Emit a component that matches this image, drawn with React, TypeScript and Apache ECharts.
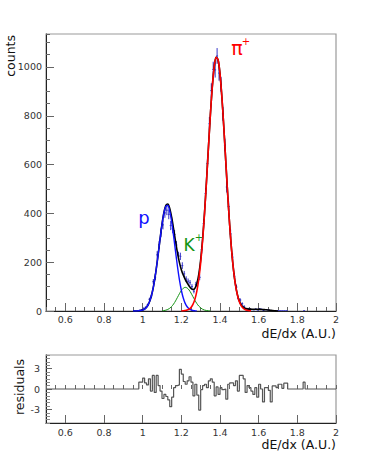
import React, { useEffect, useRef } from 'react';
import * as echarts from 'echarts';

// ---- data ----
const BIN_WIDTH = 0.01;
const dataStart = 0.98; // lower edge of first filled bin
const dataCounts = [
  3, 5, 11, 15, 25, 48, 61, 120, 139, 230,
  271, 320, 353, 402, 413, 396, 350, 337, 314, 270,
  228, 224, 186, 152, 131, 122, 116, 100, 81, 109,
  120, 138, 251, 358, 482, 604, 767, 903, 990, 988,
  1045, 975, 929, 808, 680, 508, 428, 316, 221, 143,
  98, 51, 45, 30, 19, 8, 10, 8, 6, 5,
  8, 4, 9, 7, 2, 6, 5, 3, 1, 2,
  1, 1, 1, 1, 1, 1, 1, 0, 0, 0,
  0, 0, 0, 0, 0, 1,
];

const residStart = 0.98;
const residuals = [
  1.0, 1.0, 1.6, 0.9, 0.6, 1.5, -0.3, 2.0, -0.5, 2.0,
  0.5, -0.3, -1.4, -0.8, -1.1, -1.6, -2.6, -1.2, 0.2, 0.5,
  0.6, 2.9, 2.2, 1.1, 0.7, 1.2, 1.8, 1.0, -1.0, 0.7,
  -0.9, -3.1, -0.1, 0.5, 0.7, 0.2, 1.2, 1.5, 1.0, -1.0,
  0.3, -0.8, 0.2, -0.1, 0.0, -1.5, 0.7, 0.9, 0.9, 0.5,
  1.2, -0.3, 2.0, 2.0, 1.5, -0.5, 0.5, 0.2, -0.3, -0.8,
  0.2, -1.2, 0.7, 0.0, -1.9, 0.2, 0.2, -0.2, -1.9, 0.45,
  0.45, 0.2, 0.7, 0.7, 0.1, 0.85, 0.85, 0, 0, 0,
  0, 0, 0, 0, 0, 1.0, 0,
];

const CURVE_STEP = 0.01;
const pStart = 0.95;
const pCurve = [
  0.04, 0.12, 0.3, 0.8, 1.8, 3.9, 7.9, 15.4, 28.0, 48.1, 77.9, 118.7, 170.7,
  231.3, 295.2, 355.0, 402.2, 429.4, 432.0, 409.4, 365.7, 307.7, 244.0, 182.3,
  128.4, 85.1, 53.2, 31.3, 17.4, 9.1, 4.5, 2.1, 0.9, 0.4,
];
const kStart = 1.10;
const kCurve = [
  0.8, 1.7, 3.4, 6.4, 11.2, 18.5, 28.5, 41.2, 55.8, 70.7, 83.9, 93.2, 97.0,
  94.4, 86.1, 73.6, 58.8, 44.1, 30.9, 20.3, 12.5, 7.2, 3.9, 2.0, 0.9, 0.4,
];
const piStart = 1.20;
const piCurve = [
  0.3, 0.8, 1.7, 3.7, 7.5, 14.5, 27.0, 47.6, 80.3, 129.0, 197.4, 287.7, 399.4,
  528.6, 666.7, 801.0, 917.0, 1000.3, 1039.7, 1029.7, 971.8, 873.7, 748.7,
  611.2, 475.4, 352.4, 248.9, 167.5, 107.4, 65.6, 38.2, 21.2, 11.2, 5.6, 2.7,
  1.2, 0.5,
];
const otherStart = 1.48;
const otherCurve = [
  0.5, 1.5, 3, 4, 5, 5.5, 6, 6.5, 7, 7, 7, 7, 7, 6.5, 6, 5.5, 5, 4, 3, 2, 1,
  0.5, 0,
];

const xLabelTicks = [0.6, 0.8, 1, 1.2, 1.4, 1.6, 1.8, 2];
const yLabelTicks = [0, 200, 400, 600, 800, 1000];
const residLabelTicks = [-3, 0, 3];

// ---- styling ----
const FONT = 'DejaVu Sans';
const DATA_COLOR = '#3434c8';
const P_COLOR = '#1010ff';
const K_COLOR = '#149414';
const PI_COLOR = '#ff0000';

const X_MIN = 0.5;
const X_MAX = 2.0;
const Y_MAX = 1135;

const r2 = (v: number) => Math.round(v * 1000) / 1000;

function curvePoints(start: number, vals: number[]) {
  return vals.map((v, i) => [r2(start + i * CURVE_STEP), v]);
}

function totalPoints() {
  const map = new Map<number, number>();
  const add = (start: number, vals: number[]) => {
    vals.forEach((v, i) => {
      const k = Math.round((start + i * CURVE_STEP) * 100);
      map.set(k, (map.get(k) || 0) + v);
    });
  };
  add(pStart, pCurve);
  add(kStart, kCurve);
  add(piStart, piCurve);
  add(otherStart, otherCurve);
  return Array.from(map.keys())
    .sort((a, b) => a - b)
    .map((k) => [k / 100, map.get(k) as number]);
}

function residualSteps() {
  const pts: number[][] = [];
  const nBins = Math.round((X_MAX - X_MIN) / BIN_WIDTH);
  const firstIdx = Math.round((residStart - X_MIN) / BIN_WIDTH);
  for (let i = 0; i < nBins; i++) {
    const j = i - firstIdx;
    const v = j >= 0 && j < residuals.length ? residuals[j] : 0;
    pts.push([r2(X_MIN + i * BIN_WIDTH), v]);
  }
  pts.push([X_MAX, 0]);
  return pts;
}

function dataPoints() {
  return dataCounts
    .map((c, i) => [r2(dataStart + (i + 0.5) * BIN_WIDTH), c])
    .filter((d) => d[1] > 0);
}

const tickLabel = {
  fontFamily: FONT,
  fontSize: 9.5,
  color: '#333',
  formatter: (v: number) => String(v),
};

function buildOption(): any {
  const grids = [
    { left: 46, top: 34, width: 290, height: 277, show: true, borderColor: '#9a9a9a', borderWidth: 1.2, backgroundColor: 'transparent' },
    { left: 46, top: 355, width: 290, height: 68, show: true, borderColor: '#9a9a9a', borderWidth: 1.2, backgroundColor: 'transparent' },
  ];
  const minorX = (gridIndex: number) => ({
    type: 'value', gridIndex, min: X_MIN, max: X_MAX, interval: 0.05, position: 'bottom',
    axisLine: { show: false }, splitLine: { show: false },
    axisLabel: { show: false },
    axisTick: { show: true, inside: true, length: 4, lineStyle: { color: '#666', width: 1 } },
  });
  const majorX = (gridIndex: number, margin: number) => ({
    type: 'value', gridIndex, min: X_MIN, max: X_MAX, position: 'bottom',
    axisLine: { show: true, onZero: false, lineStyle: { color: '#222', width: 1 } },
    splitLine: { show: false },
    axisLabel: { show: true, customValues: xLabelTicks, margin, ...tickLabel },
    axisTick: { show: true, inside: true, length: 8, customValues: xLabelTicks, lineStyle: { color: '#666', width: 1 } },
  });
  return {
    animation: false,
    grid: grids,
    xAxis: [minorX(0), majorX(0, 3), minorX(1), majorX(1, 4)],
    yAxis: [
      {
        type: 'value', gridIndex: 0, min: 0, max: Y_MAX, interval: 50, position: 'left',
        axisLine: { show: false }, splitLine: { show: false }, axisLabel: { show: false },
        axisTick: { show: true, inside: true, length: 4, lineStyle: { color: '#666' } },
      },
      {
        type: 'value', gridIndex: 0, min: 0, max: Y_MAX, position: 'left',
        axisLine: { show: true, onZero: false, lineStyle: { color: '#222', width: 1 } },
        splitLine: { show: false },
        axisLabel: { show: true, margin: 4, customValues: yLabelTicks, ...tickLabel },
        axisTick: { show: true, inside: true, length: 8, customValues: yLabelTicks, lineStyle: { color: '#666' } },
      },
      {
        type: 'value', gridIndex: 1, min: -5, max: 5, interval: 0.5, position: 'left',
        axisLine: { show: false }, splitLine: { show: false }, axisLabel: { show: false },
        axisTick: { show: true, inside: true, length: 4, lineStyle: { color: '#888' } },
      },
      {
        type: 'value', gridIndex: 1, min: -5, max: 5, position: 'left',
        axisLine: { show: true, onZero: false, lineStyle: { color: '#222', width: 1 } },
        splitLine: { show: false },
        axisLabel: { show: true, margin: 6, customValues: residLabelTicks, ...tickLabel },
        axisTick: { show: true, inside: true, length: 6, customValues: residLabelTicks, lineStyle: { color: '#666' } },
      },
    ],
    series: [
      {
        type: 'custom', name: 'data', xAxisIndex: 1, yAxisIndex: 1, clip: true,
        data: dataPoints(),
        renderItem: (_p: any, api: any) => {
          const x = api.value(0);
          const y = api.value(1);
          const e = Math.sqrt(y);
          const l = api.coord([x - BIN_WIDTH / 2, y]);
          const r = api.coord([x + BIN_WIDTH / 2, y]);
          const t = api.coord([x, y + e]);
          const b = api.coord([x, y - e]);
          return {
            type: 'group',
            children: [
              { type: 'line', shape: { x1: l[0], y1: l[1], x2: r[0], y2: r[1] }, style: { stroke: DATA_COLOR, lineWidth: 1 } },
              { type: 'line', shape: { x1: t[0], y1: t[1], x2: b[0], y2: b[1] }, style: { stroke: DATA_COLOR, lineWidth: 1 } },
            ],
          };
        },
        z: 2,
      },
      {
        type: 'line', name: 'total', xAxisIndex: 1, yAxisIndex: 1, data: totalPoints(),
        showSymbol: false, smooth: 0.3, lineStyle: { color: '#000', width: 1.6 }, z: 3,
      },
      {
        type: 'line', name: 'K', xAxisIndex: 1, yAxisIndex: 1, data: curvePoints(kStart, kCurve),
        showSymbol: false, smooth: 0.3, lineStyle: { color: K_COLOR, width: 1 }, z: 4,
      },
      {
        type: 'line', name: 'p', xAxisIndex: 1, yAxisIndex: 1, data: curvePoints(pStart, pCurve),
        showSymbol: false, smooth: 0.3, lineStyle: { color: P_COLOR, width: 1.4 }, z: 4,
      },
      {
        type: 'line', name: 'pi', xAxisIndex: 1, yAxisIndex: 1, data: curvePoints(piStart, piCurve),
        showSymbol: false, smooth: 0.3, lineStyle: { color: PI_COLOR, width: 1.6 }, z: 5,
      },
      {
        type: 'line', name: 'residuals', xAxisIndex: 3, yAxisIndex: 3, data: residualSteps(),
        step: 'end', showSymbol: false, lineStyle: { color: '#555', width: 1.2 }, z: 3,
      },
    ],
    graphic: [
      { type: 'text', x: 10, y: 35, rotation: Math.PI / 2, style: { text: 'counts', fontFamily: FONT, fontSize: 12.5, fill: '#111', align: 'right', verticalAlign: 'middle' } },
      { type: 'text', x: 19, y: 387, rotation: Math.PI / 2, style: { text: 'residuals', fontFamily: FONT, fontSize: 12.5, fill: '#111', align: 'center', verticalAlign: 'middle' } },
      { type: 'text', x: 336, y: 333, style: { text: 'dE/dx (A.U.)', fontFamily: FONT, fontSize: 12.5, fill: '#111', align: 'right', verticalAlign: 'middle' } },
      { type: 'text', x: 336, y: 444, style: { text: 'dE/dx (A.U.)', fontFamily: FONT, fontSize: 12.5, fill: '#111', align: 'right', verticalAlign: 'middle' } },
      { type: 'text', x: 144, y: 217, style: { text: 'p', fontFamily: FONT, fontSize: 18, fill: P_COLOR, align: 'center', verticalAlign: 'middle' } },
      { type: 'text', x: 189, y: 245, style: { text: 'K', fontFamily: FONT, fontSize: 17, fill: K_COLOR, align: 'center', verticalAlign: 'middle' } },
      { type: 'text', x: 199, y: 237, style: { text: '+', fontFamily: FONT, fontSize: 10, fill: K_COLOR, align: 'center', verticalAlign: 'middle' } },
      { type: 'text', x: 237, y: 48, style: { text: 'π', fontFamily: FONT, fontSize: 19, fill: PI_COLOR, align: 'center', verticalAlign: 'middle' } },
      { type: 'text', x: 246, y: 41, style: { text: '+', fontFamily: FONT, fontSize: 10, fill: PI_COLOR, align: 'center', verticalAlign: 'middle' } },
    ],
  };
}

export default function App() {
  const ref = useRef<HTMLDivElement>(null);
  useEffect(() => {
    if (!ref.current) return;
    const chart = echarts.init(ref.current, undefined, { renderer: 'svg' });
    chart.setOption(buildOption());
    return () => chart.dispose();
  }, []);
  return (
    <div
      ref={ref}
      style={{ position: 'fixed', left: 0, top: 0, width: 374, height: 452, background: '#fff' }}
    />
  );
}
